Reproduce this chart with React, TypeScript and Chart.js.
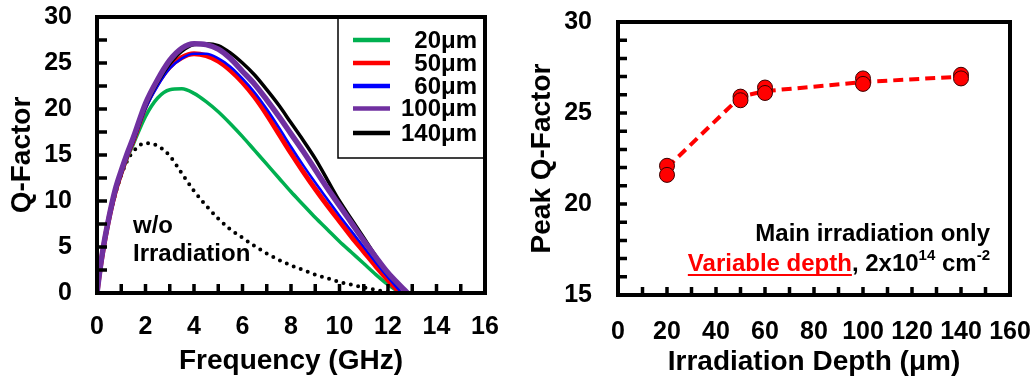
import React, { useEffect, useRef } from 'react';
import { Chart, registerables } from 'chart.js';

Chart.register(...registerables);

const FONT = "'Liberation Sans', Arial, Helvetica, sans-serif";

// ---------- Left panel data ----------
const FREQ = [0, 0.1, 0.25, 0.5, 0.75, 1, 1.25, 1.5, 2, 2.5, 3, 3.5, 4, 4.5, 5, 5.5, 6, 6.5, 7, 7.5, 8, 8.5, 9, 9.5, 10, 10.5, 11, 11.5, 12, 12.5, 12.8];
const Q_20 = [0, 2.0, 4.5, 8.0, 10.8, 12.9, 14.7, 16.2, 19.2, 21.2, 22.1, 22.2, 21.7, 20.8, 19.7, 18.4, 17.0, 15.5, 14.0, 12.5, 11.0, 9.6, 8.2, 6.9, 5.6, 4.4, 3.2, 2.0, 0.9, 0, null];
const Q_50 = [0, 2.1, 4.7, 8.2, 11.0, 13.1, 15.0, 16.6, 20.3, 22.8, 24.6, 25.6, 26.0, 25.8, 25.2, 24.2, 22.9, 21.3, 19.4, 17.3, 15.2, 13.2, 11.3, 9.5, 7.8, 6.1, 4.5, 2.9, 1.4, 0, null];
const Q_60 = [0, 2.0, 4.5, 8.0, 10.8, 12.9, 14.8, 16.4, 20.0, 22.5, 24.4, 25.5, 26.0, 26.0, 25.5, 24.6, 23.3, 21.8, 20.0, 18.0, 15.9, 13.9, 12.0, 10.2, 8.4, 6.7, 5.0, 3.3, 1.7, 0.2, null];
const Q_100 = [0, 2.1, 4.8, 8.3, 11.2, 13.3, 15.2, 16.9, 20.6, 23.2, 25.3, 26.6, 27.1, 27.0, 26.5, 25.5, 24.1, 22.7, 21.0, 19.2, 17.3, 15.4, 13.4, 11.4, 9.5, 7.6, 5.7, 3.9, 2.2, 0.8, 0];
const Q_140 = [0, 2.0, 4.6, 8.1, 10.9, 13.0, 14.9, 16.6, 20.3, 22.9, 24.9, 26.3, 27.0, 27.1, 26.9, 26.1, 25.0, 23.7, 22.1, 20.4, 18.5, 16.6, 14.6, 12.3, 10.0, 8.0, 6.0, 4.0, 2.2, 0.7, 0];
const Q_NONE = [0, 2.0, 4.5, 8.0, 10.7, 12.8, 14.4, 15.4, 16.3, 16.0, 14.9, 13.0, 11.1, 9.5, 8.1, 6.9, 6.0, 5.1, 4.3, 3.6, 3.0, 2.5, 2.0, 1.6, 1.2, 0.9, 0.6, 0.35, 0.1, 0, null];

const SERIES_LABELS = ['20μm', '50μm', '60μm', '100μm', '140μm'];
const SERIES_COLORS = ['#00b050', '#ff0000', '#0000ff', '#7030a0', '#000000'];
const SERIES_WIDTHS = [3.5, 5, 2.5, 5.5, 3.5];

// ---------- Right panel data ----------
const DEPTH = [20, 20, 50, 50, 60, 60, 100, 100, 140, 140];
const PEAK_Q = [22.1, 21.6, 25.9, 25.7, 26.4, 26.1, 26.9, 26.6, 27.1, 26.9];
const TREND_DEPTH = [20, 50, 60, 100, 140];
const TREND_Q = [22.0, 25.9, 26.2, 26.7, 27.0];

const zip = (xs: number[], ys: (number | null)[]) => xs.map((x, i) => ({ x, y: ys[i] }));

function range(a: number, b: number, step: number) {
  const out: number[] = [];
  for (let v = a; v <= b + 1e-9; v += step) out.push(+v.toFixed(4));
  return out;
}

function drawFrameAndTicks(chart: any, yMinor: number[], xMinor: number[], yLen: number, xLen: number) {
  const { ctx, chartArea: a, scales } = chart;
  const x = scales.x;
  const y = scales.y;
  ctx.save();
  ctx.strokeStyle = '#000';
  ctx.lineCap = 'butt';
  ctx.lineWidth = 3.5;
  ctx.beginPath();
  for (const v of yMinor) {
    const py = y.getPixelForValue(v);
    ctx.moveTo(a.left, py);
    ctx.lineTo(a.left + yLen, py);
  }
  for (const v of xMinor) {
    const px = x.getPixelForValue(v);
    ctx.moveTo(px, a.bottom);
    ctx.lineTo(px, a.bottom - xLen);
  }
  ctx.stroke();
  ctx.lineWidth = 4;
  ctx.strokeRect(a.left, a.top, a.right - a.left, a.bottom - a.top);
  ctx.restore();
}

const leftDeco = {
  id: 'leftDeco',
  afterDatasetsDraw(chart: any) {
    const { ctx, chartArea: a } = chart;
    drawFrameAndTicks(chart, range(2.5, 27.5, 2.5), range(1, 15, 1), 10, 9);
    ctx.save();
    // legend box
    const bx = a.left + 241;
    const by = a.top;
    const bw = a.right - bx;
    const bh = 141;
    ctx.fillStyle = '#fff';
    ctx.fillRect(bx, by, bw, bh);
    ctx.lineWidth = 1.5;
    ctx.strokeStyle = '#000';
    ctx.strokeRect(bx, by, bw, bh);
    ctx.lineWidth = 4;
    ctx.strokeRect(a.left, a.top, a.right - a.left, a.bottom - a.top);
    const rows = [23, 46, 69, 91.5, 116];
    ctx.font = `bold 24px ${FONT}`;
    ctx.textBaseline = 'middle';
    ctx.textAlign = 'right';
    SERIES_LABELS.forEach((lab, i) => {
      const ry = a.top + rows[i];
      ctx.strokeStyle = SERIES_COLORS[i];
      ctx.lineWidth = 4.5;
      ctx.beginPath();
      ctx.moveTo(bx + 15, ry);
      ctx.lineTo(bx + 52, ry);
      ctx.stroke();
      ctx.fillStyle = '#000';
      ctx.fillText(lab, bx + 139, ry + 1);
    });
    // w/o Irradiation label
    ctx.textAlign = 'left';
    ctx.fillText('w/o', a.left + 36, 226);
    ctx.fillText('Irradiation', a.left + 36, 254);
    ctx.restore();
  },
};

const rightDeco = {
  id: 'rightDeco',
  afterDatasetsDraw(chart: any) {
    const { ctx } = chart;
    drawFrameAndTicks(chart, range(16, 29, 1), range(10, 150, 10), 9, 8);
    ctx.save();
    ctx.textBaseline = 'middle';
    ctx.fillStyle = '#000';
    const rightX = 473;
    ctx.font = `bold 24px ${FONT}`;
    ctx.textAlign = 'right';
    ctx.fillText('Main irradiation only', rightX, 234);
    const big = `bold 24px ${FONT}`;
    const sup = `bold 15px ${FONT}`;
    const pieces = [
      { t: 'Variable depth', f: big, c: '#ff0000', u: true, dy: 0 },
      { t: ', 2x10', f: big, c: '#000', u: false, dy: 0 },
      { t: '14', f: sup, c: '#000', u: false, dy: -8 },
      { t: ' cm', f: big, c: '#000', u: false, dy: 0 },
      { t: '-2', f: sup, c: '#000', u: false, dy: -8 },
    ];
    let total = 0;
    const widths = pieces.map((p) => {
      ctx.font = p.f;
      const w = ctx.measureText(p.t).width;
      total += w;
      return w;
    });
    let cx = rightX - total;
    const ly = 264;
    ctx.textAlign = 'left';
    pieces.forEach((p, i) => {
      ctx.font = p.f;
      ctx.fillStyle = p.c;
      ctx.fillText(p.t, cx, ly + p.dy);
      if (p.u) {
        ctx.fillRect(cx, ly + 10, widths[i], 2);
      }
      cx += widths[i];
    });
    ctx.restore();
  },
};

function axisFont(size: number) {
  return { size, weight: 'bold' as const, family: FONT };
}

function fixX(h: number) {
  return (s: any) => {
    s.height = h;
    s.paddingLeft = 0;
    s.paddingRight = 0;
  };
}
function fixY(w: number) {
  return (s: any) => {
    s.width = w;
    s.paddingTop = 0;
    s.paddingBottom = 0;
  };
}

export default function App() {
  const leftRef = useRef<HTMLCanvasElement>(null);
  const rightRef = useRef<HTMLCanvasElement>(null);

  useEffect(() => {
    const curves = [Q_20, Q_50, Q_60, Q_100, Q_140];
    const drawOrder = [5, 4, 3, 1, 2];
    const leftDatasets: any[] = curves.map((q, i) => ({
      label: SERIES_LABELS[i],
      data: zip(FREQ, q),
      borderColor: SERIES_COLORS[i],
      borderWidth: SERIES_WIDTHS[i],
      pointRadius: 0,
      cubicInterpolationMode: 'monotone',
      order: drawOrder[i],
      spanGaps: false,
    }));
    leftDatasets.push({
      label: 'w/o Irradiation',
      data: zip(FREQ, Q_NONE),
      borderColor: '#000',
      borderWidth: 4,
      borderDash: [0, 7.5],
      borderCapStyle: 'round',
      pointRadius: 0,
      cubicInterpolationMode: 'monotone',
      order: 6,
    });

    const left = new Chart(leftRef.current as HTMLCanvasElement, {
      type: 'line',
      data: { datasets: leftDatasets },
      options: {
        responsive: false,
        animation: false,
        layout: { padding: { top: 17, right: 32, left: 0, bottom: 0 } },
        plugins: { legend: { display: false }, tooltip: { enabled: false } },
        scales: {
          x: {
            type: 'linear',
            min: 0,
            max: 16,
            grid: { display: false, drawTicks: false },
            border: { display: false },
            ticks: { stepSize: 2, color: '#000', font: axisFont(25), padding: 19, maxRotation: 0, autoSkip: false },
            title: { display: true, text: 'Frequency (GHz)', color: '#000', font: axisFont(28), padding: { top: 0, bottom: 3 } },
            afterFit: fixX(88),
          },
          y: {
            type: 'linear',
            min: 0,
            max: 30,
            grid: { display: false, drawTicks: false },
            border: { display: false },
            ticks: { stepSize: 5, color: '#000', font: axisFont(25), padding: 25 },
            title: { display: true, text: 'Q-Factor', color: '#000', font: axisFont(28), padding: { top: 5, bottom: 0 } },
            afterFit: fixY(97),
          },
        },
      } as any,
      plugins: [leftDeco],
    });

    const right = new Chart(rightRef.current as HTMLCanvasElement, {
      type: 'scatter',
      data: {
        datasets: [
          {
            label: 'points',
            data: zip(DEPTH, PEAK_Q),
            showLine: false,
            pointRadius: 7.5,
            pointBackgroundColor: '#ff0000',
            pointBorderColor: '#3a0000',
            pointBorderWidth: 1,
            order: 0,
          },
          {
            label: 'trend',
            data: zip(TREND_DEPTH, TREND_Q),
            showLine: true,
            borderColor: '#ff0000',
            borderWidth: 4,
            borderDash: [10, 6],
            pointRadius: 0,
            order: 1,
          },
        ] as any,
      },
      options: {
        responsive: false,
        animation: false,
        layout: { padding: { top: 22, right: 25, left: 0, bottom: 0 } },
        plugins: { legend: { display: false }, tooltip: { enabled: false } },
        scales: {
          x: {
            type: 'linear',
            min: 0,
            max: 160,
            grid: { display: false, drawTicks: false },
            border: { display: false },
            ticks: { stepSize: 20, color: '#000', font: axisFont(25), padding: 22, maxRotation: 0, autoSkip: false },
            title: { display: true, text: 'Irradiation Depth (μm)', color: '#000', font: axisFont(28), padding: { top: 0, bottom: 2 } },
            afterFit: fixX(86),
          },
          y: {
            type: 'linear',
            min: 15,
            max: 30,
            grid: { display: false, drawTicks: false },
            border: { display: false },
            ticks: { stepSize: 5, color: '#000', font: axisFont(25), padding: 26 },
            title: { display: true, text: 'Peak Q-Factor', color: '#000', font: axisFont(28), padding: { top: 8, bottom: 0 } },
            afterFit: fixY(101),
          },
        },
      } as any,
      plugins: [rightDeco],
    });

    return () => {
      left.destroy();
      right.destroy();
    };
  }, []);

  return (
    <div style={{ position: 'absolute', left: 0, top: 0, width: 1035, height: 381, background: '#fff' }}>
      <canvas ref={leftRef} width={517} height={381} style={{ position: 'absolute', left: 0, top: 0 }} />
      <canvas ref={rightRef} width={518} height={381} style={{ position: 'absolute', left: 517, top: 0 }} />
    </div>
  );
}
